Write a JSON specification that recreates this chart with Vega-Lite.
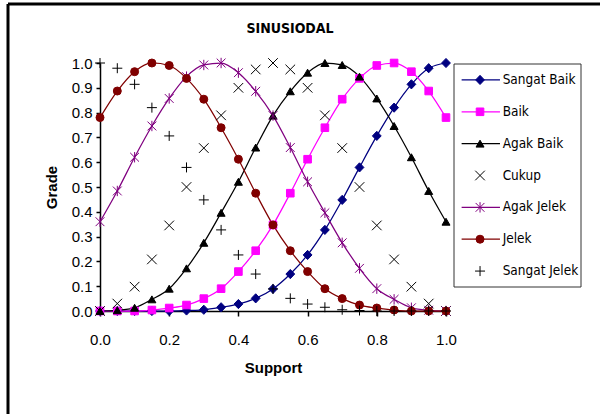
{
  "$schema": "https://vega.github.io/schema/vega-lite/v6.json",
  "width": 592,
  "height": 410,
  "autosize": {"type": "none"},
  "padding": {"left": 8, "top": 4, "right": 0, "bottom": 0},
  "background": "white",
  "config": {
    "view": {"stroke": "black", "strokeWidth": 3, "strokeDash": [592, 1002, 410, 0]},
    "font": "Liberation Sans"
  },
  "title": {
    "text": "SINUSIODAL",
    "offset": -24,
    "baseline": "middle",
    "dx": -14,
    "dy": 15,
    "font": "DejaVu Sans Condensed, Liberation Sans",
    "fontSize": 14,
    "fontWeight": "bold",
    "color": "black"
  },
  "resolve": {"scale": {"x": "independent", "y": "independent"}, "axis": {"x": "independent", "y": "independent"}},
  "layer": [
    {
      "data": {
        "values": [
          {"x": 0.00, "Sangat Baik": 0, "Baik": 0, "Agak Baik": 0, "Cukup": 0, "Agak Jelek": 0.36, "Jelek": 0.78, "Sangat Jelek": 1.0},
          {"x": 0.05, "Sangat Baik": 0, "Baik": 0, "Agak Baik": 0.003, "Cukup": 0.03, "Agak Jelek": 0.484, "Jelek": 0.887, "Sangat Jelek": 0.979},
          {"x": 0.10, "Sangat Baik": 0, "Baik": 0, "Agak Baik": 0.013, "Cukup": 0.098, "Agak Jelek": 0.62, "Jelek": 0.965, "Sangat Jelek": 0.914},
          {"x": 0.15, "Sangat Baik": 0, "Baik": 0.004, "Agak Baik": 0.047, "Cukup": 0.208, "Agak Jelek": 0.746, "Jelek": 1.0, "Sangat Jelek": 0.82},
          {"x": 0.20, "Sangat Baik": 0, "Baik": 0.012, "Agak Baik": 0.09, "Cukup": 0.345, "Agak Jelek": 0.857, "Jelek": 0.99, "Sangat Jelek": 0.706},
          {"x": 0.25, "Sangat Baik": 0.002, "Baik": 0.024, "Agak Baik": 0.172, "Cukup": 0.5, "Agak Jelek": 0.945, "Jelek": 0.938, "Sangat Jelek": 0.579},
          {"x": 0.30, "Sangat Baik": 0.005, "Baik": 0.05, "Agak Baik": 0.275, "Cukup": 0.657, "Agak Jelek": 0.992, "Jelek": 0.854, "Sangat Jelek": 0.448},
          {"x": 0.35, "Sangat Baik": 0.015, "Baik": 0.09, "Agak Baik": 0.396, "Cukup": 0.789, "Agak Jelek": 1.0, "Jelek": 0.739, "Sangat Jelek": 0.327},
          {"x": 0.40, "Sangat Baik": 0.028, "Baik": 0.159, "Agak Baik": 0.521, "Cukup": 0.9, "Agak Jelek": 0.961, "Jelek": 0.612, "Sangat Jelek": 0.226},
          {"x": 0.45, "Sangat Baik": 0.051, "Baik": 0.243, "Agak Baik": 0.659, "Cukup": 0.974, "Agak Jelek": 0.886, "Jelek": 0.475, "Sangat Jelek": 0.149},
          {"x": 0.50, "Sangat Baik": 0.089, "Baik": 0.347, "Agak Baik": 0.788, "Cukup": 1.0, "Agak Jelek": 0.788, "Jelek": 0.347, "Sangat Jelek": 0.089},
          {"x": 0.55, "Sangat Baik": 0.149, "Baik": 0.475, "Agak Baik": 0.886, "Cukup": 0.974, "Agak Jelek": 0.659, "Jelek": 0.243, "Sangat Jelek": 0.051},
          {"x": 0.60, "Sangat Baik": 0.226, "Baik": 0.612, "Agak Baik": 0.961, "Cukup": 0.9, "Agak Jelek": 0.521, "Jelek": 0.159, "Sangat Jelek": 0.028},
          {"x": 0.65, "Sangat Baik": 0.327, "Baik": 0.739, "Agak Baik": 1.0, "Cukup": 0.789, "Agak Jelek": 0.396, "Jelek": 0.09, "Sangat Jelek": 0.015},
          {"x": 0.70, "Sangat Baik": 0.448, "Baik": 0.854, "Agak Baik": 0.992, "Cukup": 0.657, "Agak Jelek": 0.275, "Jelek": 0.05, "Sangat Jelek": 0.005},
          {"x": 0.75, "Sangat Baik": 0.579, "Baik": 0.938, "Agak Baik": 0.945, "Cukup": 0.5, "Agak Jelek": 0.172, "Jelek": 0.024, "Sangat Jelek": 0.002},
          {"x": 0.80, "Sangat Baik": 0.706, "Baik": 0.99, "Agak Baik": 0.857, "Cukup": 0.345, "Agak Jelek": 0.09, "Jelek": 0.012, "Sangat Jelek": 0},
          {"x": 0.85, "Sangat Baik": 0.82, "Baik": 1.0, "Agak Baik": 0.746, "Cukup": 0.208, "Agak Jelek": 0.047, "Jelek": 0.004, "Sangat Jelek": 0},
          {"x": 0.90, "Sangat Baik": 0.914, "Baik": 0.965, "Agak Baik": 0.62, "Cukup": 0.098, "Agak Jelek": 0.013, "Jelek": 0, "Sangat Jelek": 0},
          {"x": 0.95, "Sangat Baik": 0.979, "Baik": 0.887, "Agak Baik": 0.484, "Cukup": 0.03, "Agak Jelek": 0.003, "Jelek": 0, "Sangat Jelek": 0},
          {"x": 1.00, "Sangat Baik": 1.0, "Baik": 0.78, "Agak Baik": 0.36, "Cukup": 0, "Agak Jelek": 0, "Jelek": 0, "Sangat Jelek": 0}
        ]
      },
      "transform": [
        {"fold": ["Sangat Baik", "Baik", "Agak Baik", "Cukup", "Agak Jelek", "Jelek", "Sangat Jelek"], "as": ["series", "grade"]}
      ],
      "encoding": {
        "x": {
          "field": "x",
          "type": "quantitative",
          "scale": {"domain": [0, 1], "range": [92, 438], "nice": false, "zero": false},
          "axis": {
            "title": "Support",
            "values": [0, 0.2, 0.4, 0.6, 0.8, 1.0],
            "format": ".1f",
            "offset": -103,
            "grid": false,
            "labelFlush": false,
            "labelOverlap": false,
            "domainColor": "black",
            "domainWidth": 1.5,
            "tickColor": "black",
            "tickWidth": 1.5,
            "tickSize": 5,
            "labelPadding": 16,
            "labelFont": "Liberation Sans",
            "labelFontSize": 15,
            "labelColor": "black",
            "titleFont": "Liberation Sans",
            "titleFontSize": 15,
            "titleFontWeight": "bold",
            "titleColor": "black",
            "titlePadding": 13
          }
        },
        "y": {
          "field": "grade",
          "type": "quantitative",
          "scale": {"domain": [0, 1], "range": [307, 59], "nice": false, "zero": false},
          "axis": {
            "title": "Grade",
            "values": [0, 0.1, 0.2, 0.3, 0.4, 0.5, 0.6, 0.7, 0.8, 0.9, 1.0],
            "format": ".1f",
            "offset": -92,
            "grid": false,
            "labelFlush": false,
            "labelOverlap": false,
            "domainColor": "black",
            "domainWidth": 1.5,
            "tickColor": "black",
            "tickWidth": 1.5,
            "tickSize": 4,
            "labelPadding": 4,
            "labelFont": "Liberation Sans",
            "labelFontSize": 15,
            "labelColor": "black",
            "titleFont": "Liberation Sans",
            "titleFontSize": 15,
            "titleFontWeight": "bold",
            "titleColor": "black",
            "titlePadding": 12
          }
        }
      },
      "layer": [
        {
          "data": {"values": [{}]},
          "mark": {"type": "rule", "color": "black", "strokeWidth": 1.5},
          "encoding": {"x": {"datum": 0}, "x2": {"datum": 1}, "y": {"datum": 1}}
        },
        {
          "data": {"values": [{}]},
          "mark": {"type": "rule", "color": "#808080", "strokeWidth": 1.5},
          "encoding": {"x": {"datum": 1}, "y": {"datum": 0}, "y2": {"datum": 1}}
        },
        {
          "transform": [{"filter": "datum.series != 'Cukup' && datum.series != 'Sangat Jelek'"}],
          "mark": {"type": "line", "interpolate": "monotone", "strokeWidth": 1.25},
          "encoding": {
            "color": {
              "field": "series",
              "type": "nominal",
              "scale": {
                "domain": ["Sangat Baik", "Baik", "Agak Baik", "Cukup", "Agak Jelek", "Jelek", "Sangat Jelek"],
                "range": ["#000080", "#FF00FF", "#000000", "#000000", "#800080", "#800000", "#000000"]
              },
              "legend": null
            }
          }
        },
        {
          "mark": {"type": "point", "filled": true, "size": 64, "strokeWidth": 1, "opacity": 1},
          "encoding": {
            "fill": {
              "field": "series",
              "type": "nominal",
              "scale": {
                "domain": ["Sangat Baik", "Baik", "Agak Baik", "Cukup", "Agak Jelek", "Jelek", "Sangat Jelek"],
                "range": ["#000080", "#FF00FF", "#000000", "#000000", "#800080", "#800000", "#000000"]
              },
              "legend": null
            },
            "stroke": {
              "field": "series",
              "type": "nominal",
              "scale": {
                "domain": ["Sangat Baik", "Baik", "Agak Baik", "Cukup", "Agak Jelek", "Jelek", "Sangat Jelek"],
                "range": ["#000080", "#FF00FF", "#000000", "#000000", "#800080", "#800000", "#000000"]
              },
              "legend": null
            },
            "shape": {
              "field": "series",
              "type": "nominal",
              "scale": {
                "domain": ["Sangat Baik", "Baik", "Agak Baik", "Cukup", "Agak Jelek", "Jelek", "Sangat Jelek"],
                "range": ["M0,-1.15L1.1,0L0,1.15L-1.1,0Z", "M-0.95,-0.95H0.95V0.95H-0.95Z", "triangle-up", "M-1.2,-1.2L1.2,1.2M-1.2,1.2L1.2,-1.2", "M-1.1,-1.1L1.1,1.1M-1.1,1.1L1.1,-1.1M0,-1.3V1.3", "circle", "M-1.25,0H1.25M0,-1.25V1.25"]
              },
              "legend": null
            }
          }
        }
      ]
    },
    {
      "data": {
        "values": [
          {"series": "Sangat Baik"},
          {"series": "Baik"},
          {"series": "Agak Baik"},
          {"series": "Cukup"},
          {"series": "Agak Jelek"},
          {"series": "Jelek"},
          {"series": "Sangat Jelek"}
        ]
      },
      "transform": [{"window": [{"op": "row_number", "as": "rank"}]}],
      "layer": [
        {
          "data": {"values": [{}]},
          "mark": {"type": "rect", "fill": "white", "stroke": "#333333", "strokeWidth": 1},
          "encoding": {
            "x": {"datum": 0, "type": "quantitative", "scale": {"domain": [0, 1], "range": [446, 573], "nice": false, "zero": false}, "axis": null},
            "x2": {"datum": 1},
            "y": {"datum": 0.5, "type": "quantitative", "scale": {"domain": [0.5, 7.5], "range": [60, 283], "nice": false, "zero": false}, "axis": null},
            "y2": {"datum": 7.5}
          }
        },
        {
          "transform": [{"filter": "datum.series != 'Cukup' && datum.series != 'Sangat Jelek'"}],
          "mark": {"type": "rule", "strokeWidth": 1.25},
          "encoding": {
            "x": {"datum": 0.06, "type": "quantitative", "scale": {"domain": [0, 1], "range": [446, 573], "nice": false, "zero": false}, "axis": null},
            "x2": {"datum": 0.362},
            "y": {"field": "rank", "type": "quantitative", "scale": {"domain": [0.5, 7.5], "range": [60, 283], "nice": false, "zero": false}, "axis": null},
            "color": {
              "field": "series",
              "type": "nominal",
              "scale": {
                "domain": ["Sangat Baik", "Baik", "Agak Baik", "Cukup", "Agak Jelek", "Jelek", "Sangat Jelek"],
                "range": ["#000080", "#FF00FF", "#000000", "#000000", "#800080", "#800000", "#000000"]
              },
              "legend": null
            }
          }
        },
        {
          "mark": {"type": "point", "filled": true, "size": 64, "strokeWidth": 1, "opacity": 1},
          "encoding": {
            "x": {"datum": 0.205, "type": "quantitative", "scale": {"domain": [0, 1], "range": [446, 573], "nice": false, "zero": false}, "axis": null},
            "y": {"field": "rank", "type": "quantitative", "scale": {"domain": [0.5, 7.5], "range": [60, 283], "nice": false, "zero": false}, "axis": null},
            "fill": {"field": "series", "type": "nominal", "legend": null},
            "stroke": {"field": "series", "type": "nominal", "legend": null},
            "shape": {"field": "series", "type": "nominal", "legend": null}
          }
        },
        {
          "mark": {"type": "text", "align": "left", "baseline": "middle", "font": "DejaVu Sans Condensed, Liberation Sans", "fontSize": 13.5, "color": "black"},
          "encoding": {
            "x": {"datum": 0.383, "type": "quantitative", "scale": {"domain": [0, 1], "range": [446, 573], "nice": false, "zero": false}, "axis": null},
            "y": {"field": "rank", "type": "quantitative", "scale": {"domain": [0.5, 7.5], "range": [60, 283], "nice": false, "zero": false}, "axis": null},
            "text": {"field": "series", "type": "nominal"}
          }
        }
      ]
    }
  ]
}
